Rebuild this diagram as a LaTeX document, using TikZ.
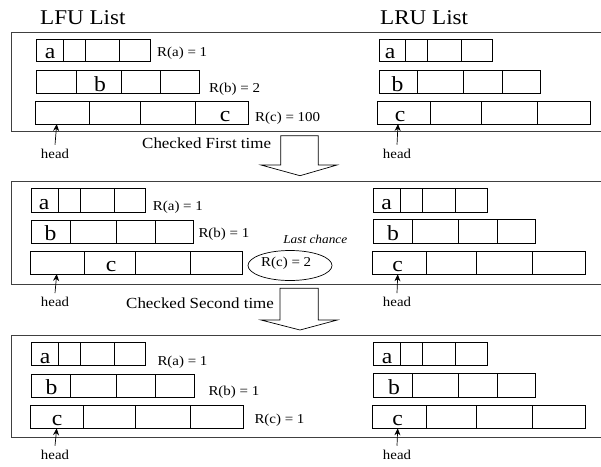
\documentclass[tikz,border=0pt]{standalone}
\usepackage{fontspec}
\setmainfont{Liberation Serif}[FakeStretch=1.1]
\usetikzlibrary{arrows.meta,shapes.geometric}

% one list of four cells: left edge, three dividers, right edge, top, bottom
\newcommand\cellrow[7]{%
  \draw[cellbox] (#1,#6) rectangle (#5,#7);
  \foreach \d in {#2,#3,#4}{\draw[cellbox] (\d,#6) -- (\d,#7);}}

\tikzset{
  panel/.style={draw=black!75, line width=0.9pt},
  cellbox/.style={draw=black, line width=0.8pt},
  letter/.style={font=\fontsize{21.5}{23}\selectfont, anchor=base, inner sep=0},
  rlabel/.style={font=\fontsize{13.6}{15}\selectfont, anchor=base west, inner sep=0},
  headlbl/.style={font=\fontsize{13.5}{15}\selectfont, anchor=base, inner sep=0},
  headarrow/.style={-{Stealth[length=7pt,width=6pt]}, line width=0.7pt},
  bigarrow/.style={draw=black, fill=white, line width=0.7pt},
  title/.style={font=\fontsize{21}{24}\selectfont, anchor=base west, inner sep=0},
  steptext/.style={font=\fontsize{15.4}{17}\selectfont, anchor=base west, inner sep=0},
  notetext/.style={font=\fontsize{12.1}{14}\selectfont\itshape, anchor=base, inner sep=0},
}

\begin{document}
\begin{tikzpicture}[x=1pt,y=-1pt]
\useasboundingbox (0,0) rectangle (601,466);

% titles
\node[title] (tlfu) at (40,24) {LFU List};
\node[title] (tlru) at (380,24) {LRU List};

% frames (open to the right)
\draw[panel] (602,32.7) -- (11,32.7) -- (11,131) -- (602,131);
\draw[panel] (602,181) -- (11,181) -- (11,284) -- (602,284);
\draw[panel] (602,335) -- (11,335) -- (11,437.3) -- (602,437.3);

% ---------------- state 1 ----------------
\cellrow{36.7}{63.3}{85.7}{119}{150}{39.3}{61.7}
\cellrow{36}{76}{121.7}{160.7}{199}{70.3}{93.7}
\cellrow{35.7}{89.3}{140}{195.7}{248.3}{101.3}{124}
\node[letter] (a1l) at (50,58.3) {a};
\node[letter] (b1l) at (100,91) {b};
\node[letter] (c1l) at (225,121.3) {c};
\node[rlabel] (ra1) at (157,56.7) {R(a) = 1};
\node[rlabel] (rb1) at (209,92.2) {R(b) = 2};
\node[rlabel] (rc1) at (255,121.2) {R(c) = 100};

\cellrow{379}{405.7}{427.7}{461.3}{492.3}{39.3}{61.7}
\cellrow{379}{417.7}{463.3}{502.3}{540.7}{70.3}{93.7}
\cellrow{377.7}{430.7}{481.7}{537.3}{590}{101.7}{124}
\node[letter] (a1r) at (390,58.3) {a};
\node[letter] (b1r) at (397.5,91) {b};
\node[letter] (c1r) at (400,121.3) {c};

\node[headlbl] (hd1l) at (55,158.3) {head};
\node[headlbl] (hd1r) at (397,158.3) {head};
\coordinate (p1l) at (56.7,124);
\coordinate (p1r) at (398,124);
\draw[headarrow] ([yshift=4pt]hd1l.north) -- (p1l);
\draw[headarrow] ([yshift=4pt]hd1r.north) -- (p1r);

\node[steptext] (chk1) at (142,148.5) {Checked First time};
\draw[bigarrow] (280.7,135.7) -- (318.3,135.7) -- (318.3,165) -- (337,165)
  -- (300,175.7) -- (261,165) -- (280.7,165) -- cycle;

% ---------------- state 2 ----------------
\cellrow{31.7}{58.3}{80}{114}{145.3}{188.3}{212}
\cellrow{31.7}{70.7}{116.7}{155.7}{193.3}{220}{243.3}
\cellrow{30.7}{84}{135}{190.7}{242.7}{251.7}{274}
\node[letter] (a2l) at (44,209) {a};
\node[letter] (b2l) at (50.5,240.5) {b};
\node[letter] (c2l) at (111,271.2) {c};
\node[rlabel] (ra2) at (152.7,210) {R(a) = 1};
\node[rlabel] (rb2) at (198.3,237.3) {R(b) = 1};
\node[notetext] (last) at (315.3,243.3) {Last chance};
\node[draw=black, line width=0.7pt, ellipse, minimum width=84pt, minimum height=30pt,
  inner sep=0] (rc2) at (290,265.5) {};
\node[rlabel] (rc2t) at (261,266.5) {R(c) = 2};

\cellrow{373.3}{400}{422.3}{455.7}{487.3}{188.7}{212}
\cellrow{373.3}{412.7}{458.3}{497.3}{535.7}{219.3}{243.3}
\cellrow{372.3}{426}{476.7}{532.3}{585.7}{251}{274.3}
\node[letter] (a2r) at (386.5,209) {a};
\node[letter] (b2r) at (393,240.5) {b};
\node[letter] (c2r) at (397.5,271.5) {c};

\node[headlbl] (hd2l) at (55,306.7) {head};
\node[headlbl] (hd2r) at (397,306.7) {head};
\coordinate (p2l) at (56.7,274);
\coordinate (p2r) at (397.7,274.3);
\draw[headarrow] ([yshift=4pt]hd2l.north) -- (p2l);
\draw[headarrow] ([yshift=4pt]hd2r.north) -- (p2r);

\node[steptext] (chk2) at (126,308.3) {Checked Second time};
\draw[bigarrow] (280,288.3) -- (318.3,288.3) -- (318.3,320) -- (337.3,320)
  -- (300,330) -- (261,320) -- (280,320) -- cycle;

% ---------------- state 3 ----------------
\cellrow{31.7}{58.3}{80}{114}{145.3}{342.3}{365.7}
\cellrow{31.7}{70.7}{116.7}{155.7}{194}{374}{397.3}
\cellrow{30.7}{83.3}{135}{190.7}{243.3}{405.7}{428.3}
\node[letter] (a3l) at (45,363) {a};
\node[letter] (b3l) at (51.5,394.5) {b};
\node[letter] (c3l) at (57,425.5) {c};
\node[rlabel] (ra3) at (157.3,365.7) {R(a) = 1};
\node[rlabel] (rb3) at (208.3,395) {R(b) = 1};
\node[rlabel] (rc3) at (254.3,423.3) {R(c) = 1};

\cellrow{373.3}{400}{422.3}{455.7}{487.3}{342.3}{365.7}
\cellrow{373.3}{412.7}{458.3}{497.3}{535.7}{373.3}{397.3}
\cellrow{372.3}{426}{476.7}{532.3}{585.7}{405}{428.3}
\node[letter] (a3r) at (387,363) {a};
\node[letter] (b3r) at (394,394.5) {b};
\node[letter] (c3r) at (397.5,425.5) {c};

\node[headlbl] (hd3l) at (55,459.3) {head};
\node[headlbl] (hd3r) at (397,459.3) {head};
\coordinate (p3l) at (56.7,428.3);
\coordinate (p3r) at (397.7,428.3);
\draw[headarrow] ([yshift=4pt]hd3l.north) -- (p3l);
\draw[headarrow] ([yshift=4pt]hd3r.north) -- (p3r);
\end{tikzpicture}
\end{document}
